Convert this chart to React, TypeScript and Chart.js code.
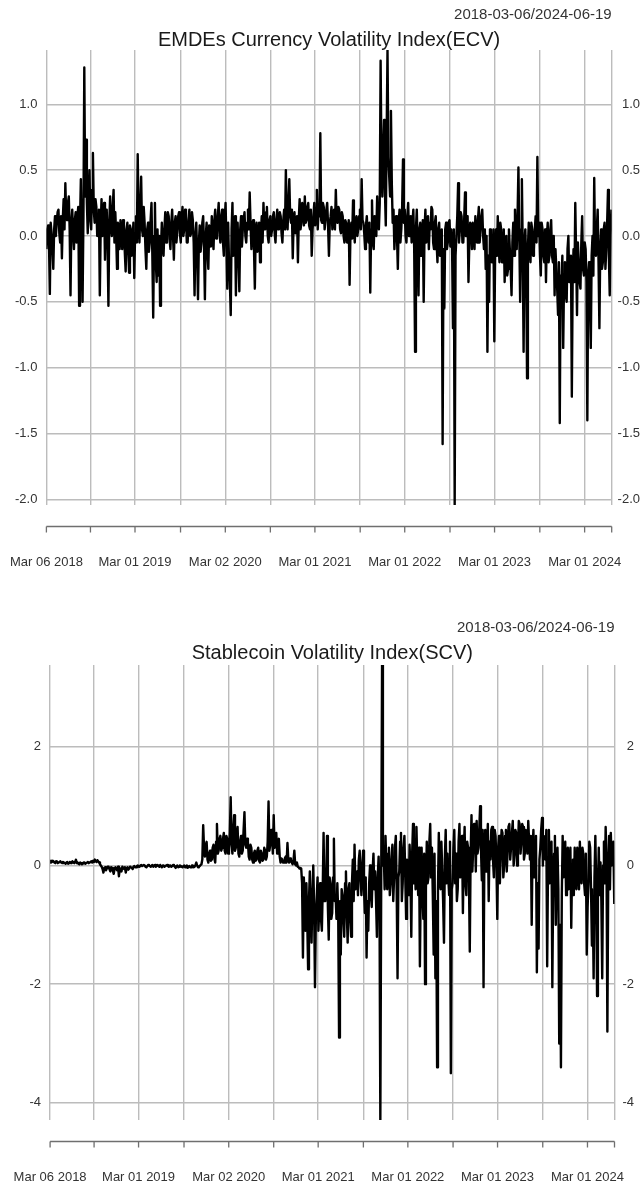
import React, { useEffect, useRef } from "react";
import { Chart, registerables } from "chart.js";

Chart.register(...registerables);

// Observations: one reading each week plus one mid-week reading
const startDate = "2018-03-06";
const endDate = "2024-06-19";
const stepDays = 7;

// EMDEs Currency Volatility Index (ECV), start-of-week readings
const ecvValues = [
  -0.10, 0.08, -0.44, 0.02, -0.25, 0.15, 0.10, 0.20, -0.05, -0.17,
  0.28, 0.40, 0.12, 0.30, -0.45, 0.20, -0.10, 0.18, 0.15, -0.53,
  0.43, -0.50, 1.28, 0.73, 0.02, 0.50, 0.05, 0.63, 0.10, 0.22,
  0.05, -0.45, 0.28, 0.15, -0.18, 0.20, -0.53, 0.30, 0.00, 0.35,
  0.18, -0.25, 0.05, 0.12, -0.10, 0.08, -0.27, 0.10, -0.28, 0.05,
  -0.05, -0.32, 0.15, 0.62, -0.05, 0.45, 0.00, 0.10, -0.25, 0.10,
  -0.05, 0.25, -0.62, 0.25, -0.35, -0.30, -0.53, 0.10, -0.15, 0.18,
  0.05, 0.15, -0.10, 0.20, -0.18, 0.15, 0.05, 0.18, -0.05, 0.22,
  0.05, 0.15, -0.05, 0.20, 0.02, 0.12, -0.45, 0.10, -0.48, 0.08,
  -0.05, 0.15, -0.48, 0.10, -0.25, 0.05, 0.15, -0.10, 0.20, 0.02,
  0.25, -0.05, 0.20, -0.15, 0.25, -0.40, -0.20, -0.60, 0.25, -0.10,
  -0.45, 0.10, -0.42, 0.15, 0.05, 0.18, -0.05, 0.20, 0.33, -0.10,
  0.12, -0.40, 0.10, -0.05, -0.20, 0.15, 0.25, 0.05, 0.22, -0.05,
  0.15, 0.05, 0.18, -0.05, 0.20, 0.08, 0.15, -0.05, 0.20, 0.50,
  0.05, 0.43, 0.10, -0.17, 0.18, 0.05, -0.20, 0.28, 0.10, 0.22,
  0.30, 0.12, 0.25, 0.05, -0.15, 0.15, 0.08, 0.35, 0.20, 0.78,
  0.10, 0.22, 0.12, 0.25, -0.15, 0.15, 0.05, 0.20, 0.35, 0.10,
  0.20, 0.02, 0.15, -0.05, 0.10, 0.00, -0.37, 0.10, 0.27, -0.05,
  0.15, 0.05, 0.20, 0.43, 0.10, -0.10, 0.15, -0.05, -0.43, 0.27,
  -0.10, 0.10, 0.30, 0.05, 1.33, 0.30, 0.88, 0.08, 1.41, 0.45,
  0.95, 0.10, -0.10, 0.15, -0.25, 0.20, 0.05, 0.58, 0.20, -0.05,
  0.25, 0.05, -0.05, 0.20, -0.88, 0.20, -0.45, 0.10, -0.05, -0.50,
  0.20, 0.05, -0.10, 0.05, 0.20, -0.10, 0.15, -0.20, 0.10, -0.10,
  -1.58, -0.55, 0.10, -0.05, 0.12, 0.05, -0.70, -2.04, 0.00, 0.40,
  0.05, 0.15, -0.05, 0.33, 0.10, -0.35, 0.10, -0.10, 0.05, 0.15,
  -0.05, 0.22, 0.05, 0.20, -0.10, -0.25, -0.88, -0.50, 0.00, -0.15,
  -0.80, 0.05, 0.15, -0.20, 0.05, -0.15, -0.35, 0.00, -0.25, -0.10,
  -0.45, 0.10, 0.20, -0.10, 0.52, -0.50, 0.43, -0.88, 0.05, -1.08,
  0.10, -0.20, 0.05, -0.10, 0.15, 0.60, 0.10, -0.30, 0.05, -0.20,
  -0.35, 0.10, -0.15, 0.12, -0.20, -0.45, -0.25, -0.60, -1.42, -0.35,
  -0.85, -0.20, -0.50, 0.00, -0.30, -1.22, -0.10, 0.25, -0.60, -0.20,
  -0.40, 0.15, -0.30, -0.10, -1.40, -0.20, -0.85, 0.00, 0.44, -0.15,
  0.20, -0.70, 0.05, -0.20, 0.10, -0.10, 0.35, -0.45, 0.20,
];

// ECV mid-week readings
const ecvMidweek = [
  0.05, -0.05, 0.10, -0.08, 0.05, 0.00, 0.18, 0.02, 0.15, 0.12,
  0.05, 0.15, 0.25, 0.05, 0.10, 0.02, 0.12, -0.05, 0.22, 0.10,
  -0.05, 0.15, 0.30, 0.25, 0.30, 0.12, 0.35, 0.20, 0.28, 0.00,
  0.20, 0.05, 0.00, 0.25, 0.10, -0.05, 0.10, 0.05, 0.22, -0.05,
  0.00, 0.10, -0.10, 0.02, 0.12, -0.12, 0.05, -0.10, 0.08, -0.15,
  0.10, 0.02, -0.05, 0.15, 0.20, 0.05, 0.22, -0.10, 0.05, -0.12,
  0.12, -0.15, 0.00, -0.20, 0.05, 0.00, -0.10, -0.08, 0.05, -0.05,
  0.18, -0.02, 0.10, 0.00, 0.10, -0.05, 0.15, 0.02, 0.12, 0.00,
  0.20, -0.05, 0.12, 0.00, 0.18, -0.05, 0.00, -0.15, -0.05, -0.12,
  0.10, -0.08, 0.00, -0.12, 0.08, -0.08, 0.00, 0.12, -0.02, 0.15,
  0.02, 0.15, -0.05, 0.12, -0.05, 0.10, -0.35, 0.05, -0.15, 0.15,
  -0.05, -0.15, 0.05, -0.08, 0.12, 0.00, 0.10, 0.05, 0.10, 0.08,
  -0.10, 0.05, -0.12, 0.10, 0.02, -0.05, 0.05, 0.18, 0.00, 0.12,
  0.00, 0.15, 0.02, 0.12, 0.05, 0.18, 0.02, 0.12, 0.05, 0.15,
  0.25, 0.15, 0.20, 0.10, 0.02, 0.15, 0.12, 0.05, 0.25, 0.08,
  0.10, 0.22, 0.08, 0.20, 0.05, 0.25, 0.18, 0.05, 0.15, 0.12,
  0.25, 0.05, 0.20, 0.08, 0.10, 0.22, 0.15, 0.05, 0.12, 0.22,
  0.05, 0.18, 0.00, 0.12, -0.05, 0.12, 0.02, -0.02, 0.05, 0.12,
  0.00, 0.15, 0.05, 0.12, 0.02, 0.08, 0.00, 0.10, 0.05, -0.05,
  0.15, 0.00, 0.10, 0.25, 0.55, 0.65, 0.35, 0.75, 0.60, 0.30,
  0.40, 0.20, 0.05, 0.00, 0.10, -0.05, 0.22, 0.10, 0.00, 0.15,
  0.00, 0.15, 0.10, -0.10, 0.05, -0.10, 0.05, -0.15, 0.12, 0.05,
  -0.05, 0.15, 0.10, 0.22, -0.05, 0.10, -0.05, 0.05, -0.15, 0.05,
  -0.10, 0.05, -0.10, 0.10, -0.08, -0.10, 0.05, -0.15, 0.15, -0.05,
  0.18, -0.05, 0.12, 0.00, 0.15, -0.05, 0.08, 0.10, -0.10, 0.00,
  0.12, -0.05, 0.15, 0.00, 0.05, 0.00, -0.15, 0.05, -0.20, 0.05,
  -0.10, -0.15, -0.05, 0.10, -0.20, 0.05, -0.05, -0.30, 0.05, -0.25,
  -0.05, -0.15, 0.00, 0.15, 0.00, 0.05, -0.10, -0.05, -0.20, -0.10,
  -0.10, 0.10, -0.15, 0.05, -0.05, 0.00, -0.15, 0.10, -0.15, 0.05,
  0.00, -0.20, 0.05, -0.15, 0.00, -0.10, -0.40, -0.20, -0.30, -0.15,
  -0.30, -0.45, -0.10, -0.35, -0.15, -0.30, -0.35, -0.15, -0.05, -0.35,
  -0.05, -0.25, -0.05, -0.35, -0.30, -0.45, -0.15, -0.30, -0.10, 0.05,
  -0.20, -0.10, -0.25, 0.05, -0.25, 0.10, -0.15, 0.00,
];

// Stablecoin Volatility Index (SCV), start-of-week readings
const scvValues = [
  0.08, 0.06, 0.07, 0.04, 0.06, 0.05, 0.07, 0.04, 0.05, 0.03,
  0.06, 0.04, 0.05, 0.07, 0.04, 0.10, 0.05, 0.02, 0.04, 0.03,
  0.05, 0.04, 0.06, 0.05, 0.07, 0.08, 0.10, 0.06, 0.07, 0.02,
  -0.02, -0.12, -0.03, -0.05, -0.02, -0.10, -0.04, -0.14, -0.03, -0.08,
  -0.18, -0.05, -0.02, -0.06, -0.12, -0.03, -0.05, -0.02, -0.06, -0.01,
  -0.03, 0.00, -0.02, 0.01, -0.01, 0.00, -0.03, 0.01, -0.01, 0.00,
  -0.02, 0.01, 0.00, -0.01, 0.01, -0.03, 0.00, -0.01, 0.01, -0.02,
  0.00, -0.01, 0.00, -0.04, 0.00, -0.02, -0.01, -0.03, 0.00, -0.02,
  -0.04, -0.01, -0.03, 0.00, -0.02, 0.05, -0.03, -0.01, 0.02, 0.68,
  0.15, 0.40, 0.05, 0.25, 0.10, 0.35, 0.05, 0.70, 0.25, 0.50,
  0.30, 0.55, 0.20, 0.45, 0.30, 1.15, 0.20, 0.85, 0.30, 0.65,
  0.15, 0.50, 0.25, 0.90, 0.30, 0.40, 0.10, 0.30, 0.05, 0.25,
  0.10, 0.30, 0.05, 0.20, 0.10, 0.25, 0.15, 1.08, 0.35, 0.55,
  0.85, 0.40, 0.20, 0.45, 0.05, 0.10, 0.05, 0.15, 0.38, 0.05,
  0.10, 0.02, 0.25, 0.00, -0.02, -0.05, -0.05, -1.55, -0.50, -0.30,
  -1.75, -0.10, -1.30, 0.00, -2.05, -0.55, -1.10, -0.30, -1.10, 0.55,
  -0.60, 0.50, -1.25, -0.30, -0.80, 0.45, -0.50, -0.30, -2.90, -1.50,
  -0.50, -1.20, -0.10, -1.30, -0.30, -1.20, 0.10, 0.35, -0.30, -0.50,
  0.25, -0.50, 0.25, -0.80, -1.55, -1.10, 0.00, -0.70, 0.20, -0.10,
  -1.20, 0.15, -4.29, 3.38, 0.20, 0.50, -0.40, 0.30, -0.30, 0.35,
  -0.20, 0.50, -1.90, -0.10, 0.55, -0.30, 0.50, -0.90, -0.30, 0.35,
  -1.20, 0.70, 0.20, 0.65, -0.50, -1.70, 0.30, -0.90, -2.00, 0.40,
  -0.20, 0.70, 0.30, -1.50, -1.90, -3.40, 0.55, -0.40, -0.10, -1.30,
  0.60, 0.20, -0.50, -3.50, -0.30, 0.60, 0.20, -0.40, 0.70, 0.10,
  -0.80, 0.65, -0.50, 0.30, -1.45, 0.85, 0.30, 0.60, 0.75, 0.30,
  1.00, -0.25, -2.05, 0.60, 0.30, -0.60, 0.10, 0.65, -0.20, 0.50,
  -0.90, 0.50, 0.20, 0.55, 0.00, 0.60, 0.25, 0.70, 0.30, 0.75,
  0.20, 0.55, 0.30, 0.70, 0.40, 0.65, 0.20, 0.50, 0.75, 0.10,
  -1.00, 0.60, 0.20, -1.80, -1.40, 0.30, 0.80, 0.50, 0.10, -1.70,
  0.60, 0.20, -2.05, 0.20, -1.00, 0.30, -3.00, -3.40, 0.50, 0.10,
  -0.50, 0.30, 0.00, -1.05, 0.10, 0.30, -0.40, 0.20, 0.40, -0.30,
  0.20, -0.50, -1.50, -0.30, 0.30, -1.35, -1.90, 0.50, -2.20, 0.30,
  0.05, -1.90, 0.40, 0.65, -2.80, 0.50, 0.55, 0.20, -0.65,
];

// SCV mid-week readings
const scvMidweek = [
  0.05, 0.08, 0.05, 0.07, 0.04, 0.06, 0.05, 0.06, 0.04, 0.05,
  0.03, 0.06, 0.04, 0.05, 0.07, 0.04, 0.03, 0.05, 0.02, 0.05,
  0.03, 0.05, 0.04, 0.06, 0.05, 0.06, 0.07, 0.09, 0.05, 0.00,
  -0.06, -0.04, -0.08, -0.02, -0.06, -0.03, -0.09, -0.05, -0.06, -0.02,
  -0.06, -0.10, -0.04, -0.03, -0.05, -0.07, -0.02, -0.04, -0.02, -0.03,
  -0.01, -0.02, 0.00, -0.01, 0.01, -0.02, -0.01, 0.00, -0.02, 0.01,
  0.00, -0.02, 0.01, -0.02, -0.01, 0.00, -0.02, 0.00, -0.01, 0.00,
  -0.02, 0.01, -0.02, -0.01, -0.03, 0.00, -0.02, -0.01, -0.03, 0.00,
  -0.02, -0.03, 0.00, -0.03, 0.01, 0.00, -0.02, 0.01, 0.10, 0.30,
  0.35, 0.10, 0.20, 0.08, 0.30, 0.12, 0.40, 0.20, 0.45, 0.25,
  0.45, 0.25, 0.50, 0.20, 0.55, 0.35, 0.60, 0.25, 0.50, 0.20,
  0.40, 0.20, 0.60, 0.35, 0.45, 0.15, 0.35, 0.10, 0.20, 0.08,
  0.25, 0.08, 0.25, 0.08, 0.30, 0.10, 0.40, 0.25, 0.60, 0.20,
  0.30, 0.55, 0.35, 0.15, 0.12, 0.05, 0.12, 0.05, 0.10, 0.12,
  0.05, 0.08, 0.02, 0.05, -0.03, -0.04, -0.30, -0.20, -1.10, -0.90,
  -0.60, -0.80, -0.50, -0.70, -0.90, -0.20, -0.70, -0.90, -0.40, -0.60,
  -0.30, -0.70, -0.20, -0.90, -0.20, -0.60, -0.90, -0.80, -0.60, -0.40,
  -0.90, -0.30, -0.80, -0.40, -0.90, -0.30, -0.60, -0.40, -0.10, 0.10,
  -0.20, 0.00, -0.40, -0.20, -0.60, -0.30, -0.50, -0.10, -0.40, -0.60,
  -0.20, -0.50, -0.30, 0.00, -0.40, 0.00, 0.20, -0.50, 0.10, -0.60,
  0.30, -0.40, -0.20, 0.40, -0.60, 0.30, -0.20, 0.10, -0.50, -0.10,
  0.20, -0.30, -0.40, 0.00, 0.30, -0.30, -0.50, 0.20, -0.40, -0.30,
  0.40, -0.20, -0.50, 0.20, -0.60, -0.40, -0.20, 0.40, -0.60, 0.10,
  -0.30, -0.20, 0.40, -0.40, 0.30, -0.30, -0.60, 0.40, -0.20, 0.50,
  0.20, -0.30, 0.40, -0.20, 0.20, -0.10, 0.70, -0.10, 0.20, 0.60,
  0.30, 0.60, 0.20, -0.10, 0.70, 0.40, 0.60, 0.10, 0.60, 0.00,
  0.30, -0.30, 0.60, -0.20, 0.50, -0.10, 0.65, 0.10, 0.55, 0.00,
  0.60, 0.00, 0.75, 0.20, 0.70, 0.10, 0.60, 0.20, 0.40, 0.50,
  0.30, -0.20, 0.50, -0.30, 0.10, 0.60, 0.00, 0.20, 0.60, 0.00,
  -0.30, 0.40, -0.30, 0.50, -0.20, -0.40, -1.00, -0.50, -0.20, 0.40,
  0.20, -0.40, 0.30, 0.00, -0.50, -0.20, 0.30, -0.40, -0.10, 0.30,
  -0.30, 0.20, -0.70, 0.40, -0.40, -0.60, -0.20, -0.30, -0.40, -0.50,
  -0.60, 0.00, -0.30, 0.10, -0.20, -0.40, 0.00, 0.40,
];

// Time axis: tick marks every six months, labels once a year
const xTickDates = [
  "2018-03-06", "2018-09-01", "2019-03-01", "2019-09-02", "2020-03-02",
  "2020-09-01", "2021-03-01", "2021-09-01", "2022-03-01", "2022-09-01",
  "2023-03-01", "2023-09-01", "2024-03-01", "2024-06-19",
];
const xTickLabels = [
  "Mar 06 2018", "", "Mar 01 2019", "", "Mar 02 2020",
  "", "Mar 01 2021", "", "Mar 01 2022", "",
  "Mar 01 2023", "", "Mar 01 2024", "",
];

const ecvYTicks = [-2, -1.5, -1, -0.5, 0, 0.5, 1];
const ecvYLabels = ["-2.0", "-1.5", "-1.0", "-0.5", "0.0", "0.5", "1.0"];
const scvYTicks = [-4, -2, 0, 2];
const scvYLabels = ["-4", "-2", "0", "2"];

const DAY_MS = 86400000;
const dayOf = (d: string) => (Date.parse(d) - Date.parse(startDate)) / DAY_MS;
const totalDays = dayOf(endDate);

const FONT = '"Liberation Sans", Arial, Helvetica, sans-serif';
const GRID = "#bcbcbc";

// Merge weekly and mid-week readings into one time-ordered series
function toPoints(weekly: number[], midweek: number[]) {
  const pts: { x: number; y: number }[] = [];
  weekly.forEach((v, i) => {
    pts.push({ x: i * stepDays, y: v });
    if (i < midweek.length) pts.push({ x: i * stepDays + stepDays / 2, y: midweek[i] });
  });
  return pts;
}

type PanelProps = {
  title: string;
  values: number[];
  midweek: number[];
  yTicks: number[];
  yLabels: string[];
  yMin: number;
  yMax: number;
  width: number;
  height: number;
  pad: { left: number; right: number; top: number; bottom: number };
  dateY: number;
  titleY: number;
  rightLabelEdge: number;
};

function Panel(props: PanelProps) {
  const ref = useRef<HTMLCanvasElement | null>(null);

  useEffect(() => {
    const canvas = ref.current;
    if (!canvas) return;

    const points = toPoints(props.values, props.midweek);
    const xTickValues = xTickDates.map(dayOf);

    const decorations = {
      id: "panelDecorations",
      afterDraw(chart: any) {
        const ctx = chart.ctx as CanvasRenderingContext2D;
        const area = chart.chartArea;
        const xs = chart.scales.x;
        const ys = chart.scales.y;
        ctx.save();

        // Date range and title
        ctx.fillStyle = "#333";
        ctx.font = `15px ${FONT}`;
        ctx.textAlign = "right";
        ctx.textBaseline = "middle";
        ctx.fillText(`${startDate}/${endDate}`, area.right, props.dateY);

        ctx.fillStyle = "#1a1a1a";
        ctx.font = `20px ${FONT}`;
        ctx.textAlign = "center";
        ctx.fillText(props.title, (area.left + area.right) / 2, props.titleY);

        // Value labels on both sides
        ctx.fillStyle = "#333";
        ctx.font = `13px ${FONT}`;
        ctx.textAlign = "right";
        props.yTicks.forEach((v, k) => {
          const py = ys.getPixelForValue(v);
          ctx.fillText(props.yLabels[k], area.left - 9, py);
          ctx.fillText(props.yLabels[k], props.rightLabelEdge, py);
        });

        // Detached time axis below the plot
        const axisY = Math.round(area.bottom + 21) + 0.5;
        const x0 = xs.getPixelForValue(0);
        const x1 = xs.getPixelForValue(totalDays);
        ctx.strokeStyle = "#6f6f6f";
        ctx.lineWidth = 1.3;
        ctx.beginPath();
        ctx.moveTo(x0, axisY);
        ctx.lineTo(x1, axisY);
        xTickValues.forEach((d) => {
          const px = xs.getPixelForValue(d);
          ctx.moveTo(px, axisY);
          ctx.lineTo(px, axisY + 6);
        });
        ctx.stroke();

        ctx.textAlign = "center";
        xTickValues.forEach((d, k) => {
          const label = xTickLabels[k];
          if (!label) return;
          ctx.fillText(label, xs.getPixelForValue(d), area.bottom + 57);
        });
        ctx.restore();
      },
    };

    const chart = new Chart(canvas, {
      type: "line",
      data: {
        datasets: [
          {
            data: points,
            borderColor: "#000",
            borderWidth: 2.4,
            borderJoinStyle: "round",
            pointRadius: 0,
            tension: 0,
            fill: false,
          },
        ],
      },
      options: {
        responsive: false,
        animation: false,
        events: [],
        layout: { padding: props.pad },
        plugins: {
          legend: { display: false },
          title: { display: false },
          tooltip: { enabled: false },
        },
        scales: {
          x: {
            type: "linear",
            min: 0,
            max: totalDays,
            afterBuildTicks: (scale: any) => {
              scale.ticks = xTickValues.map((v) => ({ value: v }));
            },
            ticks: { display: false },
            grid: { color: GRID, lineWidth: 1.4, drawTicks: false },
            border: { display: false },
          },
          y: {
            type: "linear",
            min: props.yMin,
            max: props.yMax,
            afterBuildTicks: (scale: any) => {
              scale.ticks = props.yTicks.map((v) => ({ value: v }));
            },
            ticks: { display: false },
            grid: { color: GRID, lineWidth: 1.4, drawTicks: false },
            border: { display: false },
          },
        },
      },
      plugins: [decorations],
    } as any);

    return () => chart.destroy();
  }, []);

  return (
    <canvas
      ref={ref}
      width={props.width}
      height={props.height}
      style={{ display: "block", width: props.width, height: props.height }}
    />
  );
}

export default function App() {
  return (
    <div
      style={{
        position: "absolute",
        left: 0,
        top: 0,
        width: 644,
        height: 1186,
        background: "#fff",
      }}
    >
      <Panel
        title="EMDEs Currency Volatility Index(ECV)"
        values={ecvValues}
        midweek={ecvMidweek}
        yTicks={ecvYTicks}
        yLabels={ecvYLabels}
        yMin={-2.043}
        yMax={1.412}
        width={644}
        height={590}
        pad={{ left: 46.4, right: 32.3, top: 50, bottom: 85 }}
        dateY={15}
        titleY={40}
        rightLabelEdge={640}
      />
      <Panel
        title="Stablecoin Volatility Index(SCV)"
        values={scvValues}
        midweek={scvMidweek}
        yTicks={scvYTicks}
        yLabels={scvYLabels}
        yMin={-4.29}
        yMax={3.38}
        width={644}
        height={596}
        pad={{ left: 50.1, right: 29.5, top: 75, bottom: 66 }}
        dateY={38}
        titleY={63}
        rightLabelEdge={634}
      />
    </div>
  );
}
